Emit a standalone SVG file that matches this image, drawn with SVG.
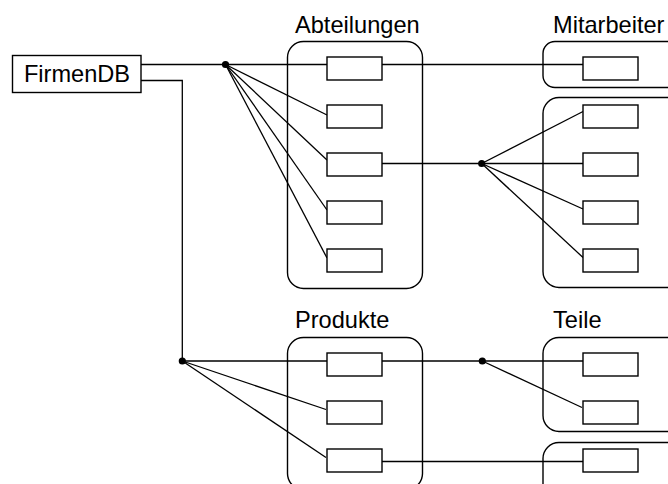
<svg xmlns="http://www.w3.org/2000/svg" width="668" height="484" viewBox="0 0 668 484">
<style>
.bg{fill:#fff}
.box{fill:#fff;stroke:#000;stroke-width:1.4}
.rec{fill:#fff;stroke:#000;stroke-width:1.4}
.grp{fill:none;stroke:#000;stroke-width:1.4}
.ln{fill:none;stroke:#000;stroke-width:1.3}
.dot{fill:#000}
text{font-family:"Liberation Sans",Arial,sans-serif;font-size:23.6px;fill:#000}
</style>
<rect class="bg" x="0" y="0" width="668" height="484"/>
<g id="groups">
<g id="abteilungen"><rect class="grp" x="287.5" y="41.5" width="135" height="247" rx="16"/><text x="295" y="33">Abteilungen</text></g>
<g id="mitarbeiter1"><rect class="grp" x="543" y="41.5" width="150" height="46" rx="12"/><text x="553" y="33">Mitarbeiter</text></g>
<g id="mitarbeiter2"><rect class="grp" x="543" y="97.5" width="150" height="190" rx="16"/></g>
<g id="produkte"><rect class="grp" x="287.5" y="337.5" width="135" height="152" rx="16"/><text x="295" y="328">Produkte</text></g>
<g id="teile1"><rect class="grp" x="543" y="337.5" width="150" height="94" rx="16"/><text x="553" y="328">Teile</text></g>
<g id="teile2"><rect class="grp" x="543" y="442.5" width="150" height="60" rx="16"/></g>
</g>
<g id="connectors">
<polyline class="ln" points="141,64.5 327,64.5"/>
<polyline class="ln" points="382,64.5 583,64.5"/>
<polyline class="ln" points="141,80.5 182.3,80.5 182.3,361"/>
<line class="ln" x1="225.5" y1="64.5" x2="327" y2="115"/>
<line class="ln" x1="225.5" y1="64.5" x2="327" y2="160"/>
<line class="ln" x1="225.5" y1="64.5" x2="327" y2="210"/>
<line class="ln" x1="225.5" y1="64.5" x2="327" y2="258"/>
<line class="ln" x1="382" y1="163.5" x2="583" y2="163.5"/>
<line class="ln" x1="481.7" y1="163.5" x2="583" y2="111.5"/>
<line class="ln" x1="481.7" y1="163.5" x2="583" y2="209"/>
<line class="ln" x1="481.7" y1="163.5" x2="583" y2="257.5"/>
<line class="ln" x1="182.3" y1="361" x2="327" y2="361"/>
<line class="ln" x1="182.3" y1="361" x2="326" y2="409.5"/>
<line class="ln" x1="182.3" y1="361" x2="326" y2="457.5"/>
<line class="ln" x1="382" y1="361" x2="583" y2="361"/>
<line class="ln" x1="482.3" y1="361" x2="582" y2="407.5"/>
<line class="ln" x1="382" y1="461.5" x2="583" y2="461.5"/>
<circle class="dot" cx="225.5" cy="64.5" r="3.6"/>
<circle class="dot" cx="481.7" cy="163.5" r="3.6"/>
<circle class="dot" cx="182.3" cy="361" r="3.6"/>
<circle class="dot" cx="482.3" cy="361" r="3.6"/>
</g>
<g id="firmendb"><rect class="box" x="12.5" y="55.5" width="128.5" height="37"/><text x="77" y="82" text-anchor="middle">FirmenDB</text></g>
<g id="abt-items">
<rect class="rec" x="327" y="57" width="55" height="23"/>
<rect class="rec" x="327" y="105" width="55" height="23"/>
<rect class="rec" x="327" y="153" width="55" height="23"/>
<rect class="rec" x="327" y="201" width="55" height="23"/>
<rect class="rec" x="327" y="249" width="55" height="23"/>
</g>
<g id="mit-items">
<rect class="rec" x="583" y="57" width="55" height="23"/>
<rect class="rec" x="583" y="105" width="55" height="23"/>
<rect class="rec" x="583" y="153" width="55" height="23"/>
<rect class="rec" x="583" y="201" width="55" height="23"/>
<rect class="rec" x="583" y="249" width="55" height="23"/>
</g>
<g id="prod-items">
<rect class="rec" x="327" y="353" width="55" height="23"/>
<rect class="rec" x="327" y="401" width="55" height="23"/>
<rect class="rec" x="327" y="449" width="55" height="23"/>
</g>
<g id="teile-items">
<rect class="rec" x="583" y="353" width="55" height="23"/>
<rect class="rec" x="583" y="401" width="55" height="23"/>
<rect class="rec" x="583" y="449" width="55" height="23"/>
</g>
</svg>
